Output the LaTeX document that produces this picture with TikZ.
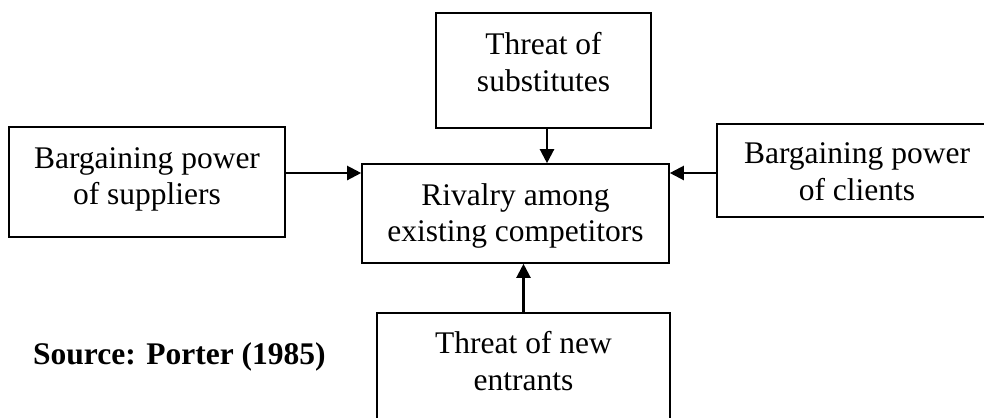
\documentclass[tikz,border=0pt]{standalone}
\usepackage{fontspec}
\setmainfont{Liberation Serif}
\usetikzlibrary{arrows.meta}
\tikzset{
  box/.style={draw=black, line width=1.6bp, fill=none, inner sep=0pt},
  lbl/.style={inner sep=0pt, align=center, font=\fontsize{31.5bp}{36.5bp}\selectfont},
  arr/.style={line width=2.2bp, -{Triangle[length=14bp,width=14bp]}},
}
\begin{document}
\begin{tikzpicture}[x=1bp,y=-1bp]
\useasboundingbox (0,0) rectangle (984,417);
% boxes
\node[box, minimum width=215bp, minimum height=115bp] (sub) at (543.5,70.5) {};
\node[box, minimum width=276bp, minimum height=110bp] (sup) at (147,182) {};
\node[box, minimum width=307bp, minimum height=99bp] (riv) at (515.5,213.5) {};
\node[box, minimum width=280bp, minimum height=93bp] (cli) at (857,170.5) {};
\node[box, minimum width=293bp, minimum height=112bp] (ent) at (523.5,369) {};
% labels
\node[lbl] (subT) at (543.5,62.25) {Threat of\\substitutes};
\node[lbl] (supT) at (147,179.2) {Bargaining power\\of suppliers};
\node[lbl] (rivT) at (515.5,216.2) {Rivalry among\\existing competitors};
\node[lbl] (cliT) at (857,171.75) {Bargaining power\\of clients};
\node[lbl] (entT) at (523.5,361.25) {Threat of new\\entrants};
\node[inner sep=0pt, anchor=base west, font=\fontsize{31.5bp}{36.5bp}\selectfont\bfseries] (src) at (33,364) {Source: Porter (1985)};
% connectors
\draw[arr] ([xshift=3.5bp]sub.south) -- ([xshift=3.5bp]sub.south |- riv.north);
\draw[arr] ([yshift=9bp]sup.east) -- ([yshift=9bp]sup.east -| riv.west);
\draw[arr] ([yshift=-2.5bp]cli.west) -- ([yshift=-2.5bp]cli.west -| riv.east);
\draw[arr] (ent.north) -- (ent.north |- riv.south);
\end{tikzpicture}
\end{document}
